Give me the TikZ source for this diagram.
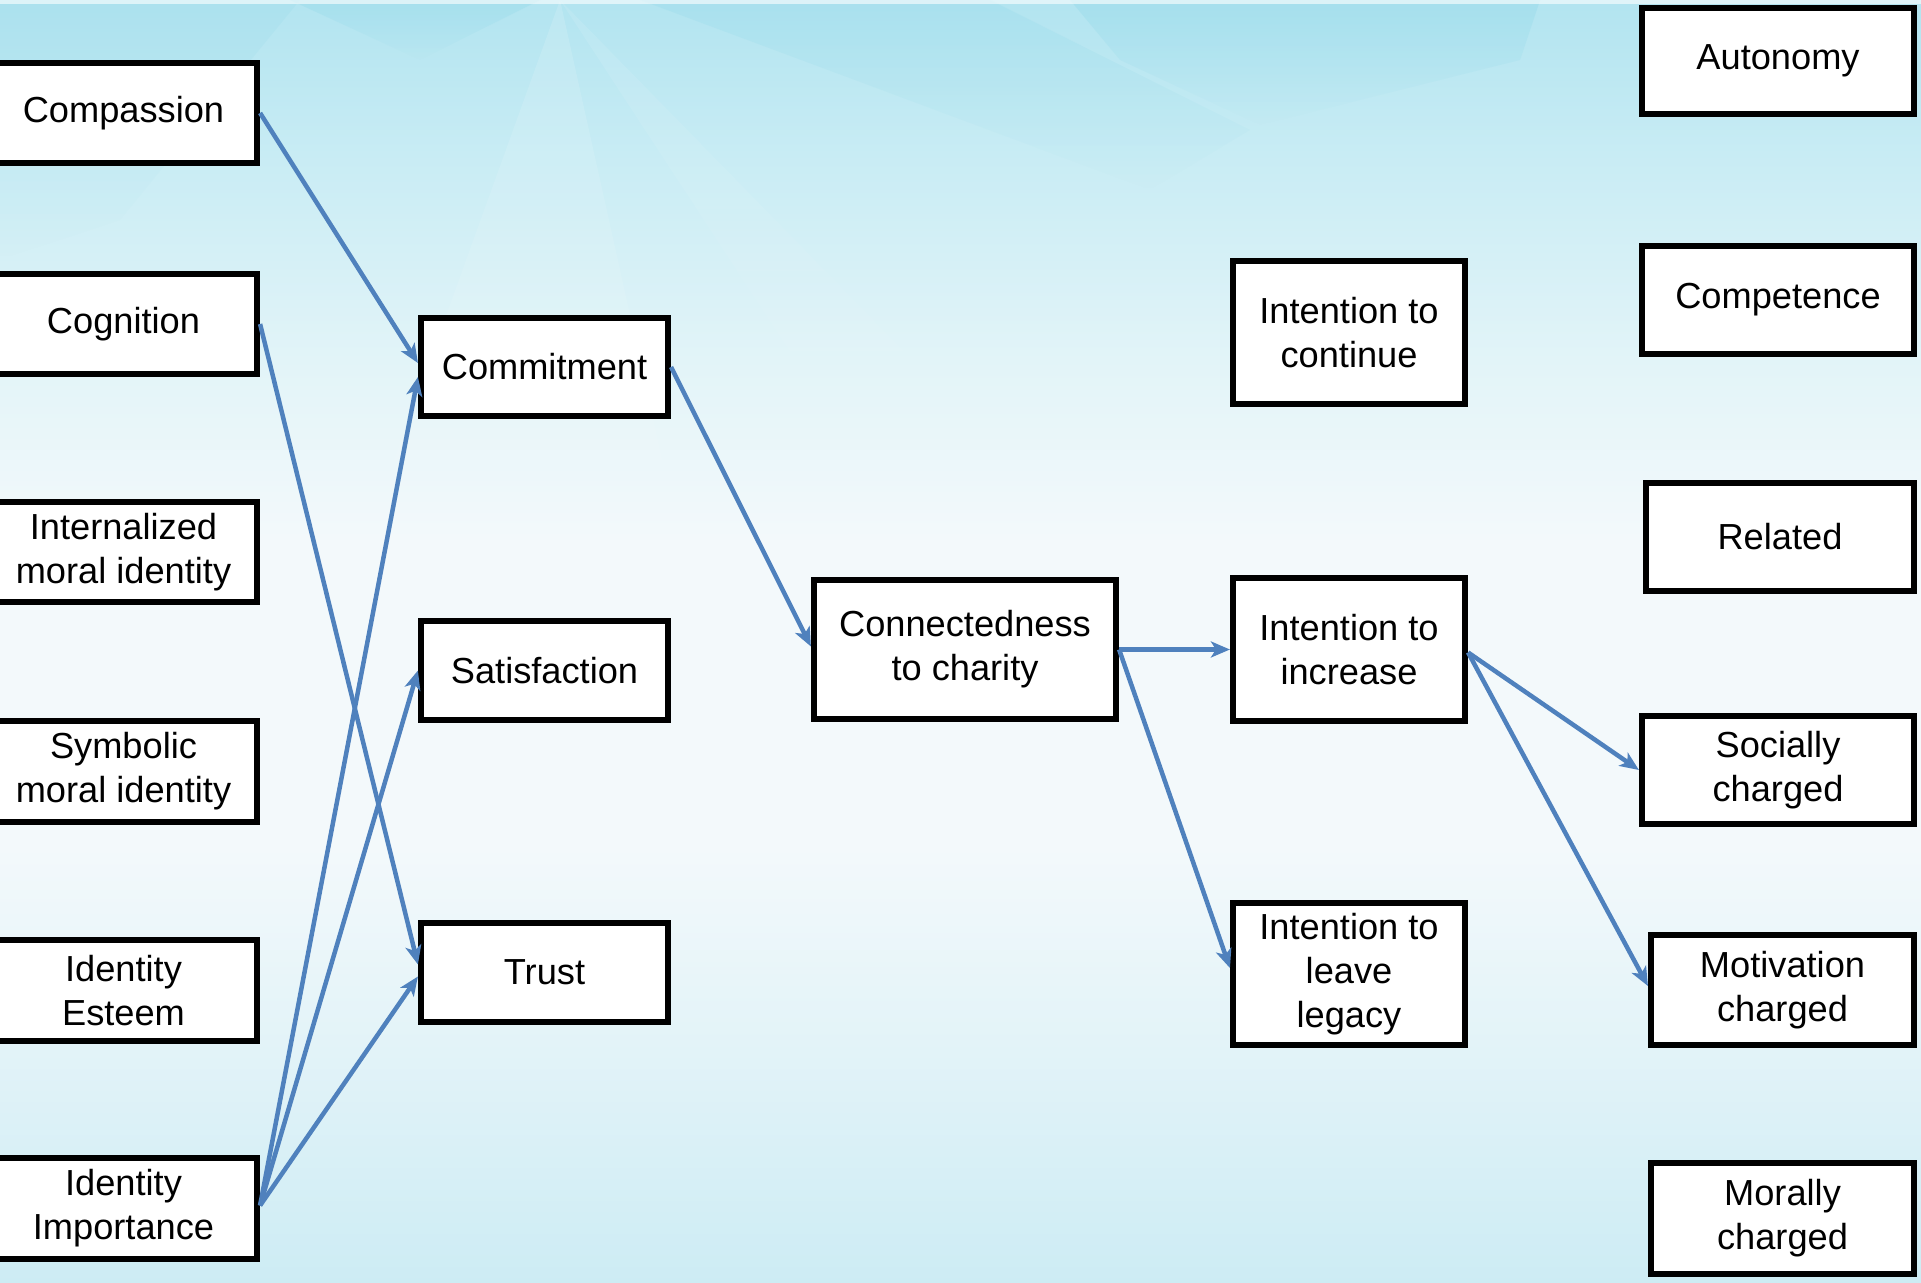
\documentclass[tikz,border=0pt]{standalone}
\usepackage{fontspec}
\setmainfont{Liberation Sans}
\usetikzlibrary{arrows.meta,calc,shadows,fadings}

% sky-like backdrop colours, bottom to top
\definecolor{bgA}{RGB}{205,236,244}
\definecolor{bgB}{RGB}{226,243,248}
\definecolor{bgC}{RGB}{243,249,251}
\definecolor{bgD}{RGB}{226,244,248}
\definecolor{bgE}{RGB}{200,236,244}
\definecolor{bgF}{RGB}{178,228,240}
\definecolor{skycyan}{RGB}{120,208,228}
\definecolor{linkblue}{RGB}{79,129,189}

\pgfdeclareverticalshading{skyfade}{100bp}{%
  color(0bp)=(bgA); color(25bp)=(bgA); color(34bp)=(bgB);
  color(42bp)=(bgC); color(54bp)=(bgC); color(61bp)=(bgD);
  color(69bp)=(bgE); color(75bp)=(bgF); color(100bp)=(bgF)}

\begin{document}
\begin{tikzpicture}[x=0.01cm,y=-0.01cm,
  box/.style={draw=black, line width=0.06cm, fill=white, align=center,
    inner sep=0pt, font=\fontsize{10.3}{12.5}\selectfont,
    drop shadow={shadow xshift=0.015cm, shadow yshift=-0.02cm,
      fill=black, opacity=0.35}},
  leftbox/.style={box, minimum width=2.67cm, minimum height=1.00cm},
  midbox/.style={box, minimum width=2.47cm, minimum height=0.98cm},
  intbox/.style={box, minimum width=2.32cm, minimum height=1.42cm},
  rightbox/.style={box, minimum width=2.72cm, minimum height=1.08cm},
  link/.style={draw=linkblue, line width=0.045cm,
    -{Stealth[length=0.19cm, width=0.16cm, inset=0.05cm]}}]

% page area and backdrop
\clip (0,0) rectangle (1921,1283);
\shade[shading=skyfade] (0,0) rectangle (1921,1283);

% soft rays along the top edge
\fill[skycyan, opacity=0.22, path fading=south]
  (290,0) -- (540,0) -- (420,60) -- cycle;
\fill[skycyan, opacity=0.16, path fading=south]
  (640,0) -- (990,0) -- (1250,130) -- (1150,190) -- cycle;
\fill[skycyan, opacity=0.22, path fading=south]
  (1070,0) -- (1540,0) -- (1520,60) -- (1260,125) -- (1120,60) -- cycle;
\fill[skycyan, opacity=0.12, path fading=south]
  (0,0) -- (300,0) -- (120,220) -- (0,260) -- cycle;
\fill[white, opacity=0.14, path fading=south]
  (560,0) -- (300,720) -- (720,720) -- cycle;
\fill[white, opacity=0.10, path fading=south]
  (560,0) -- (900,520) -- (1020,470) -- cycle;
\fill[white, opacity=0.6] (0,0) rectangle (1921,4);

% drivers
\node[leftbox] (comp)   at (123.5,113)  {Compassion};
\node[leftbox] (cog)    at (123.5,324)  {Cognition};
\node[leftbox] (intmi)  at (123.5,552)  {Internalized\\moral identity};
\node[leftbox] (symmi)  at (123.5,771.5) {Symbolic\\moral identity};
\node[leftbox] (esteem) at (123.5,990.5) {Identity\\Esteem};
\node[leftbox] (imp)    at (123.5,1208.5) {Identity\\Importance};

% relationship quality
\node[midbox] (commit) at (544.5,367)   {Commitment};
\node[midbox] (sat)    at (544.5,670.5) {Satisfaction};
\node[midbox] (trust)  at (544.5,972.5) {Trust};

\node[box, minimum width=3.02cm, minimum height=1.39cm] (connect)
  at (965,649.5) {Connectedness\\to charity};

% intentions
\node[intbox] (icont) at (1349,332.5) {Intention to\\continue};
\node[intbox] (iinc)  at (1349,649.5) {Intention to\\increase};
\node[intbox] (ileg)  at (1349,974)   {Intention to\\leave\\legacy};

% outcomes
\node[rightbox, minimum height=1.06cm] (auton) at (1778,61) {Autonomy};
\node[rightbox] (compet) at (1778,300) {Competence};
\node[rightbox, minimum width=2.68cm] (related) at (1780,537) {Related};
\node[rightbox] (social) at (1778,770) {Socially\\charged};
\node[rightbox, minimum width=2.63cm, minimum height=1.10cm] (motiv)
  at (1782.5,990) {Motivation\\charged};
\node[rightbox, minimum width=2.63cm, minimum height=1.11cm] (moral)
  at (1782.5,1218.5) {Morally\\charged};

% paths
\draw[link] (comp.east) -- ($(commit.west)+(0,-4)$);
\draw[link] (cog.east) -- ($(trust.west)+(0,-8)$);
\draw[link] ($(imp.east)+(0,-3)$) -- ($(commit.west)+(0,10)$);
\draw[link] ($(imp.east)+(0,-3)$) -- (sat.west);
\draw[link] ($(imp.east)+(0,-3)$) -- ($(trust.west)+(0,4)$);
\draw[link] (commit.east) -- ($(connect.west)+(0,-3)$);
\draw[link] (connect.east) -- (iinc.west);
\draw[link] (connect.east) -- ($(ileg.west)+(0,-6)$);
\draw[link] ($(iinc.east)+(0,3)$) -- (social.west);
\draw[link] ($(iinc.east)+(0,3)$) -- ($(motiv.west)+(0,-4)$);
\end{tikzpicture}
\end{document}
